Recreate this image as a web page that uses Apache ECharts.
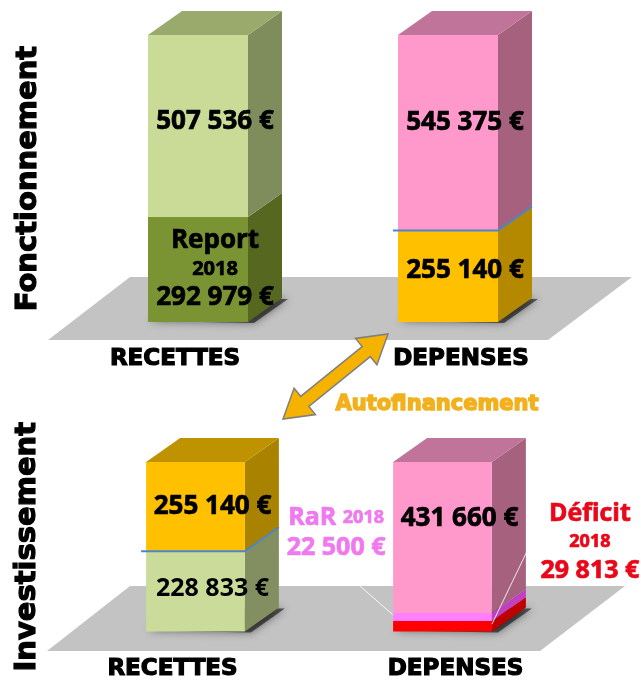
<!DOCTYPE html>
<html>
<head>
<meta charset="utf-8">
<script src="https://cdn.jsdelivr.net/npm/echarts@6/dist/echarts.min.js"></script>
<style>html,body{margin:0;padding:0;background:#fff}#c{width:641px;height:681px}</style>
</head>
<body>
<div id="c"></div>
<script>
// ---------- DATA ----------
const categories = ['RECETTES', 'DEPENSES'];
const sectionTitles = ['Fonctionnement', 'Investissement'];
// Fonctionnement (bottom segment first)
const fonctRecettes = [292979, 507536];        // Report 2018, Recettes
const fonctDepenses = [255140, 545375];        // Autofinancement, Dépenses
// Investissement (bottom segment first)
const investRecettes = [228833, 255140];       // Recettes, Autofinancement
const investDepenses = [29813, 22500, 431660]; // Déficit 2018, RaR 2018, Dépenses
const arrowLabel = 'Autofinancement';

// ---------- STYLE ----------
const DX = 34, DY = -24;
const NUM_FONT = '"Open Sans"';
const HEAVY_FONT = 'DejaVu Sans';
function fmt(v) { return String(v).replace(/\B(?=(\d{3})+(?!\d))/g, ' ') + ' €'; }

const fonctRecStyles = [
  { front: '#7a9433', side: '#566820', top: '#66792a',
    label: v => '{b|Report}\n{s|2018}\n{b|' + fmt(v) + '}', ldy: 0 },
  { front: '#c9db97', side: '#7f8c5c', top: '#9aaa6c', label: v => '{b|' + fmt(v) + '}', ldy: -4 }
];
const fonctDepStyles = [
  { front: '#ffc000', side: '#b48900', top: '#c49500', label: v => '{b|' + fmt(v) + '}', ldy: -6, blueTop: true },
  { front: '#ff99cc', side: '#a6617f', top: '#c07499', label: v => '{b|' + fmt(v) + '}', ldy: -10 }
];
const investRecStyles = [
  { front: '#cbdb9a', side: '#838f60', top: '#9aaa6c', label: v => '{m|' + fmt(v) + '}', ldy: -2, blueTop: true },
  { front: '#ffc000', side: '#a98200', top: '#bf9300', label: v => '{b|' + fmt(v) + '}', ldy: 0 }
];
const investDepStyles = [
  { front: '#ff0000', side: '#c00000', top: '#d00000',
    ext: { text: v => '{d|Déficit}\n{ds|2018}\n{d|' + fmt(v) + '}', side: 'right', tdx: 98, tdy: -84, l1: [40, -85] } },
  { front: '#ff80ff', side: '#c040c0', top: '#d060d0',
    ext: { text: v => '{p|RaR }{ps|2018}\n{p|' + fmt(v) + '}', side: 'left', tdx: -57, tdy: -84, l1: [-57, -52] } },
  { front: '#ff99cc', side: '#a6617f', top: '#c07499', label: v => '{b|' + fmt(v) + '}', ldy: -19 }
];

function tok(size, lh, color, sw) {
  return { fontFamily: NUM_FONT, fontWeight: 'bold', fontSize: size, lineHeight: lh, fill: color,
    stroke: color, lineWidth: sw === undefined ? 0.7 : sw };
}
const richStyles = {
  b: tok(26, 29, '#000'),
  m: tok(25, 29, '#000', 0),
  s: tok(20, 28, '#000'),
  d: tok(25, 29, '#e8081a'),
  ds: tok(18, 28, '#e8081a'),
  p: tok(25, 30, '#ef79ef'),
  ps: tok(18, 30, '#ef79ef')
};

function buildItems(cat, values, styles) {
  let acc = 0;
  return values.map((v, i) => {
    const s = acc; acc += v;
    return { value: [cat, s, acc, i, i === values.length - 1 ? 1 : 0], v: v, st: styles[i] };
  });
}

function makeSeries(gridIndex, rec, dep, recSt, depSt) {
  const meta = buildItems(0, rec, recSt).concat(buildItems(1, dep, depSt));
  return {
    type: 'custom',
    xAxisIndex: gridIndex, yAxisIndex: gridIndex,
    encode: { x: 0, y: [1, 2] },
    data: meta.map(m => m.value),
    renderItem: function (params, api) {
      const m = meta[params.dataIndex];
      const cat = api.value(0), s = api.value(1), e = api.value(2);
      const p0 = api.coord([cat, s]), p1 = api.coord([cat, e]);
      const w = api.size([1, 0])[0] * 0.4;
      const xl = p0[0] - w / 2, xr = p0[0] + w / 2, yb = p0[1], yt = p1[1];
      const st = m.st;
      const ch = [];
      if (api.value(3) === 0) {
        ch.push({ type: 'polygon', z2: 0,
          shape: { points: [[xl + 2, yb - 1], [xr + 6, yb + 1], [xr + DX + 6, yb + DY + 1], [xl + DX, yb + DY]] },
          style: { fill: 'rgba(0,0,0,0.55)', shadowBlur: 9, shadowColor: 'rgba(0,0,0,0.85)' } });
      }
      ch.push({ type: 'polygon', z2: 1,
        shape: { points: [[xr, yb], [xr + DX, yb + DY], [xr + DX, yt + DY], [xr, yt]] },
        style: { fill: st.side } });
      ch.push({ type: 'rect', z2: 1, shape: { x: xl, y: yt, width: w, height: yb - yt }, style: { fill: st.front } });
      if (api.value(4) === 1) {
        ch.push({ type: 'polygon', z2: 1,
          shape: { points: [[xl, yt], [xl + DX, yt + DY], [xr + DX, yt + DY], [xr, yt]] },
          style: { fill: st.top } });
      }
      if (st.blueTop) {
        ch.push({ type: 'polyline', z2: 60,
          shape: { points: [[xl - 5, yt], [xr, yt], [xr + DX, yt + DY]] },
          style: { stroke: '#4a86cc', lineWidth: 2, fill: null } });
      }
      if (st.label) {
        ch.push({ type: 'text', z2: 100, x: (xl + xr) / 2 + DX / 2, y: (yb + yt) / 2 + st.ldy,
          style: { text: st.label(m.v), rich: richStyles, fontFamily: NUM_FONT, fontWeight: 'bold', align: 'center', verticalAlign: 'middle' } });
      }
      if (st.ext) {
        const ax = st.ext.side === 'left' ? xl : xr, ay = (yb + yt) / 2;
        ch.push({ type: 'line', z2: 90,
          shape: { x1: ax + st.ext.l1[0], y1: ay + st.ext.l1[1], x2: ax, y2: ay - 2 },
          style: { stroke: 'rgba(255,255,255,0.85)', lineWidth: 1 } });
        ch.push({ type: 'text', z2: 100, x: ax + st.ext.tdx, y: ay + st.ext.tdy,
          style: { text: st.ext.text(m.v), rich: richStyles, fontFamily: NUM_FONT, fontWeight: 'bold', align: 'center', verticalAlign: 'middle' } });
      }
      return { type: 'group', children: ch };
    }
  };
}

// ---------- DECORATION ----------
function arrowPoints(A, B) {
  const vx = B[0] - A[0], vy = B[1] - A[1], L = Math.hypot(vx, vy);
  const u = [vx / L, vy / L], n = [-u[1], u[0]];
  const hl = 28, hw = 17, sw = 6.5;
  const P = (base, a, b) => [base[0] + u[0] * a + n[0] * b, base[1] + u[1] * a + n[1] * b];
  return [B, P(B, -hl, hw), P(B, -hl, sw), P(A, hl, sw), P(A, hl, hw), A,
          P(A, hl, -hw), P(A, hl, -sw), P(B, -hl, -sw), P(B, -hl, -hw)];
}

const chart = echarts.init(document.getElementById('c'), null, { renderer: 'canvas' });
const axisLabelCfg = {
  margin: 26,
  formatter: v => (v === categories[0] ? '{l|' : '{r|') + v + '}',
  rich: {
    l: { fontFamily: HEAVY_FONT, fontWeight: 'bold', fontSize: 23, color: '#000', textBorderColor: '#000', textBorderWidth: 1.2, padding: [0, 46, 0, 0] },
    r: { fontFamily: HEAVY_FONT, fontWeight: 'bold', fontSize: 23, color: '#000', textBorderColor: '#000', textBorderWidth: 1.2, padding: [0, 0, 0, 26] }
  }
};
const nameStyle = { fontFamily: HEAVY_FONT, fontWeight: 'bold', fontSize: 29, color: '#000', textBorderColor: '#000', textBorderWidth: 1.2 };
const fTotal = Math.max(fonctRecettes.reduce((a, b) => a + b, 0), fonctDepenses.reduce((a, b) => a + b, 0));
const iTotal = Math.max(investRecettes.reduce((a, b) => a + b, 0), investDepenses.reduce((a, b) => a + b, 0));

chart.setOption({
  animation: false,
  grid: [
    { left: 73, right: 68, top: 35, bottom: 359 },
    { left: 72, right: 75, top: 462, bottom: 49 }
  ],
  xAxis: [0, 1].map(i => ({
    type: 'category', gridIndex: i, data: categories,
    axisLine: { show: false }, axisTick: { show: false }, splitLine: { show: false },
    axisLabel: axisLabelCfg
  })),
  yAxis: [0, 1].map(i => ({
    type: 'value', gridIndex: i, min: 0, max: i === 0 ? fTotal : iTotal,
    name: sectionTitles[i], nameLocation: 'middle', nameRotate: 90, nameGap: 30,
    nameTextStyle: nameStyle,
    axisLine: { show: false }, axisTick: { show: false }, axisLabel: { show: false }, splitLine: { show: false }
  })),
  graphic: [
    { type: 'polygon', z: 0, shape: { points: [[130, 277], [632, 277], [548, 340], [48, 340]] }, style: { fill: '#c3c3c3' } },
    { type: 'polygon', z: 0, shape: { points: [[130, 586], [625, 586], [540, 651], [47, 651]] }, style: { fill: '#c3c3c3' } },
    { type: 'polygon', z: 20, shape: { points: arrowPoints([283, 419], [388, 334]) },
      style: { fill: '#f5b300', stroke: '#7f7f7f', lineWidth: 1.5 } },
    { type: 'text', z: 20, x: 437, y: 405,
      style: { text: arrowLabel, fontFamily: HEAVY_FONT, fontWeight: 'bold', fontSize: 21, fill: '#f2b01c',
        stroke: '#f2b01c', lineWidth: 1.4, align: 'center', verticalAlign: 'middle' } }
  ],
  series: [
    makeSeries(0, fonctRecettes, fonctDepenses, fonctRecStyles, fonctDepStyles),
    makeSeries(1, investRecettes, investDepenses, investRecStyles, investDepStyles)
  ]
});
</script>
</body>
</html>
